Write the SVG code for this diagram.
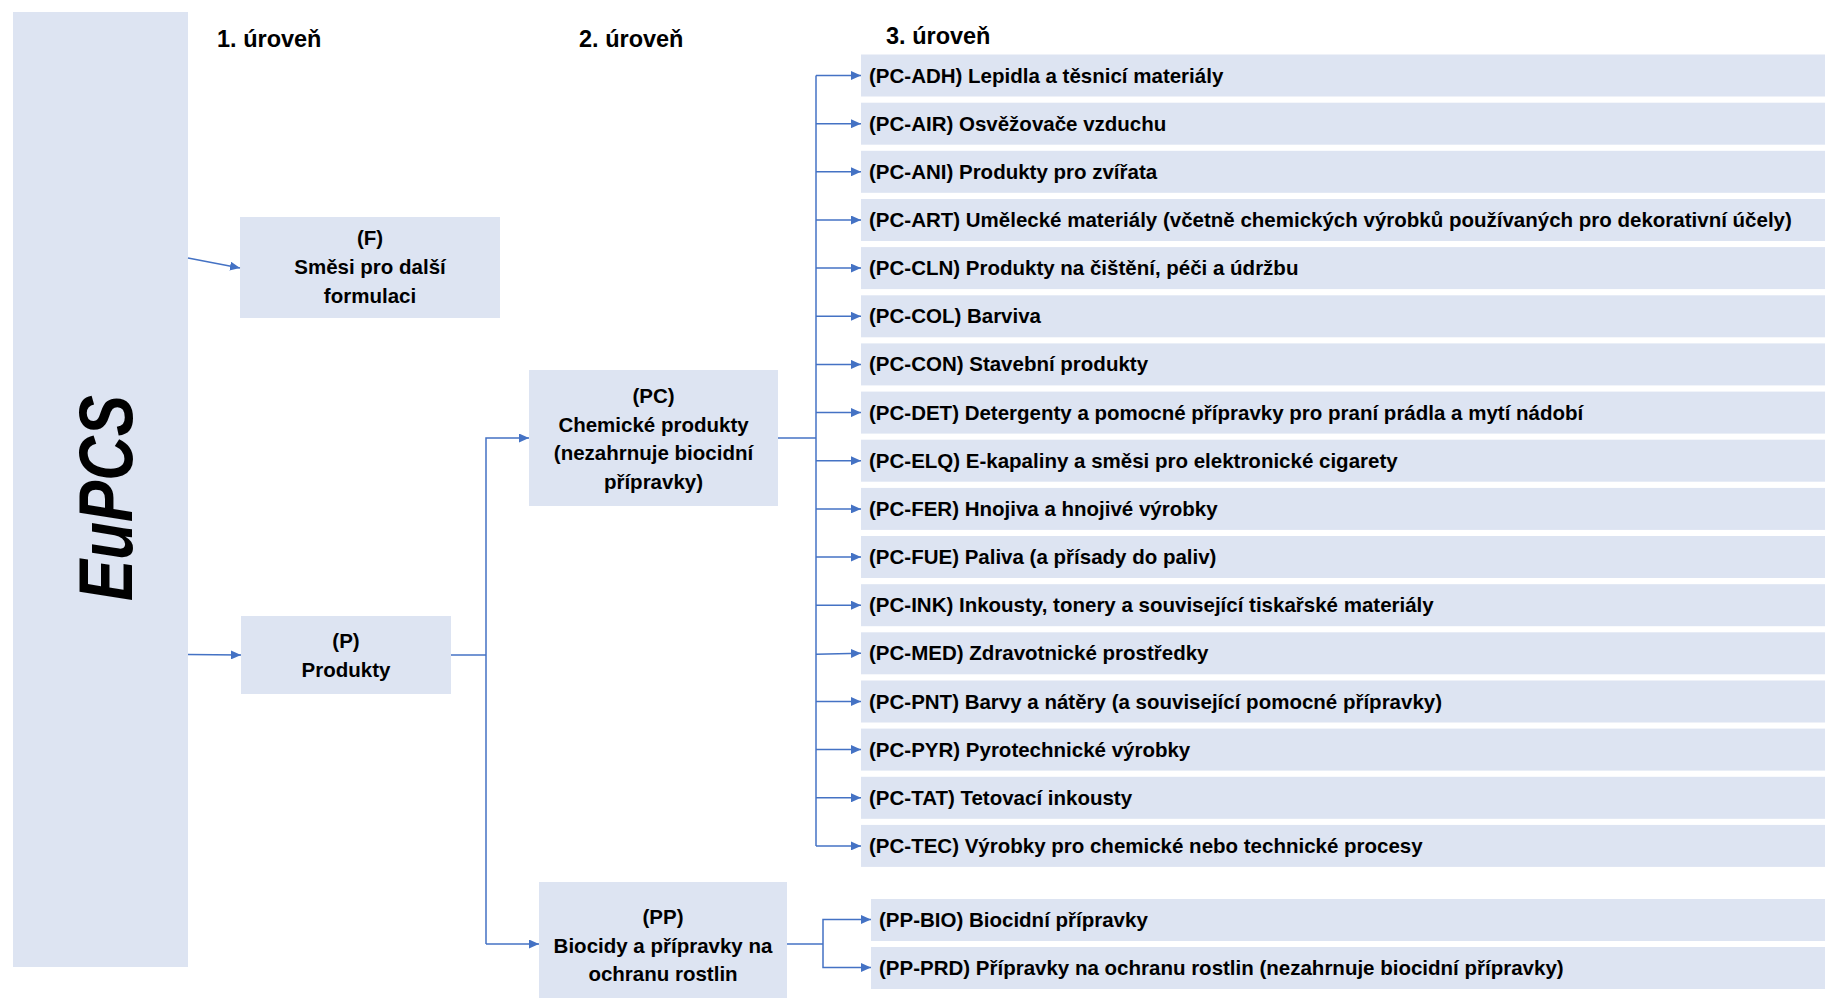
<svg xmlns="http://www.w3.org/2000/svg" width="1825" height="999" viewBox="0 0 1825 999">
<defs>
<marker id="ah" markerUnits="userSpaceOnUse" markerWidth="11" markerHeight="9" refX="10" refY="4.5" orient="auto">
<path d="M0,0 L10,4.5 L0,9 z" fill="#4472C4"/>
</marker>
<style>
.box{fill:#DDE4F2}
.t{font-family:"Liberation Sans",Arial,sans-serif;font-weight:bold;font-size:20.5px;fill:#000}
.c{text-anchor:middle}
.h{font-family:"Liberation Sans",Arial,sans-serif;font-weight:bold;font-size:23.5px;fill:#000}
.ln{fill:none;stroke:#4472C4;stroke-width:1.5}
.ar{fill:none;stroke:#4472C4;stroke-width:1.5;marker-end:url(#ah)}
</style>
</defs>
<rect width="1825" height="999" fill="#fff"/>

<g id="eupcs">
<rect class="box" x="13" y="12" width="175" height="955"/>
<text transform="translate(132,601) rotate(-90)" font-family="'Liberation Sans',Arial,sans-serif" font-weight="bold" font-style="italic" font-size="76" textLength="206" lengthAdjust="spacingAndGlyphs">EuPCS</text>
</g>

<g id="headings">
<text class="h" x="217" y="47">1. úroveň</text>
<text class="h" x="579" y="47">2. úroveň</text>
<text class="h" x="886" y="44">3. úroveň</text>
</g>

<g id="node-F">
<rect class="box" x="240" y="217" width="260" height="101"/>
<text class="t c" x="370" y="245">(F)</text>
<text class="t c" x="370" y="274">Směsi pro další</text>
<text class="t c" x="370" y="303">formulaci</text>
</g>

<g id="node-P">
<rect class="box" x="241" y="616" width="210" height="78"/>
<text class="t c" x="346" y="648">(P)</text>
<text class="t c" x="346" y="677">Produkty</text>
</g>

<g id="node-PC">
<rect class="box" x="529" y="370" width="249" height="136"/>
<text class="t c" x="653.5" y="403">(PC)</text>
<text class="t c" x="653.5" y="431.5">Chemické produkty</text>
<text class="t c" x="653.5" y="460">(nezahrnuje biocidní</text>
<text class="t c" x="653.5" y="488.5">přípravky)</text>
</g>

<g id="node-PP">
<rect class="box" x="539" y="882" width="248" height="116"/>
<text class="t c" x="663" y="924">(PP)</text>
<text class="t c" x="663" y="952.5">Biocidy a přípravky na</text>
<text class="t c" x="663" y="981">ochranu rostlin</text>
</g>

<g id="level3">
<g id="PC-ADH"><rect class="box" x="861" y="54.5" width="964" height="42"/><text class="t" x="869" y="82.5">(PC-ADH) Lepidla a těsnicí materiály</text></g>
<g id="PC-AIR"><rect class="box" x="861" y="102.7" width="964" height="42"/><text class="t" x="869" y="130.7">(PC-AIR) Osvěžovače vzduchu</text></g>
<g id="PC-ANI"><rect class="box" x="861" y="150.8" width="964" height="42"/><text class="t" x="869" y="178.8">(PC-ANI) Produkty pro zvířata</text></g>
<g id="PC-ART"><rect class="box" x="861" y="199" width="964" height="42"/><text class="t" x="869" y="227">(PC-ART) Umělecké materiály (včetně chemických výrobků používaných pro dekorativní účely)</text></g>
<g id="PC-CLN"><rect class="box" x="861" y="247.1" width="964" height="42"/><text class="t" x="869" y="275.1">(PC-CLN) Produkty na čištění, péči a údržbu</text></g>
<g id="PC-COL"><rect class="box" x="861" y="295.3" width="964" height="42"/><text class="t" x="869" y="323.3">(PC-COL) Barviva</text></g>
<g id="PC-CON"><rect class="box" x="861" y="343.4" width="964" height="42"/><text class="t" x="869" y="371.4">(PC-CON) Stavební produkty</text></g>
<g id="PC-DET"><rect class="box" x="861" y="391.6" width="964" height="42"/><text class="t" x="869" y="419.6">(PC-DET) Detergenty a pomocné přípravky pro praní prádla a mytí nádobí</text></g>
<g id="PC-ELQ"><rect class="box" x="861" y="439.7" width="964" height="42"/><text class="t" x="869" y="467.7">(PC-ELQ) E-kapaliny a směsi pro elektronické cigarety</text></g>
<g id="PC-FER"><rect class="box" x="861" y="487.9" width="964" height="42"/><text class="t" x="869" y="515.9">(PC-FER) Hnojiva a hnojivé výrobky</text></g>
<g id="PC-FUE"><rect class="box" x="861" y="536" width="964" height="42"/><text class="t" x="869" y="564">(PC-FUE) Paliva (a přísady do paliv)</text></g>
<g id="PC-INK"><rect class="box" x="861" y="584.2" width="964" height="42"/><text class="t" x="869" y="612.2">(PC-INK) Inkousty, tonery a související tiskařské materiály</text></g>
<g id="PC-MED"><rect class="box" x="861" y="632.3" width="964" height="42"/><text class="t" x="869" y="660.3">(PC-MED) Zdravotnické prostředky</text></g>
<g id="PC-PNT"><rect class="box" x="861" y="680.5" width="964" height="42"/><text class="t" x="869" y="708.5">(PC-PNT) Barvy a nátěry (a související pomocné přípravky)</text></g>
<g id="PC-PYR"><rect class="box" x="861" y="728.6" width="964" height="42"/><text class="t" x="869" y="756.6">(PC-PYR) Pyrotechnické výrobky</text></g>
<g id="PC-TAT"><rect class="box" x="861" y="776.8" width="964" height="42"/><text class="t" x="869" y="804.8">(PC-TAT) Tetovací inkousty</text></g>
<g id="PC-TEC"><rect class="box" x="861" y="824.9" width="964" height="42"/><text class="t" x="869" y="852.9">(PC-TEC) Výrobky pro chemické nebo technické procesy</text></g>
<g id="PP-BIO"><rect class="box" x="871" y="899" width="954" height="42"/><text class="t" x="879" y="926.5">(PP-BIO) Biocidní přípravky</text></g>
<g id="PP-PRD"><rect class="box" x="871" y="947" width="954" height="42"/><text class="t" x="879" y="974.5">(PP-PRD) Přípravky na ochranu rostlin (nezahrnuje biocidní přípravky)</text></g>
</g>

<g id="connectors">
<line class="ar" x1="188" y1="258" x2="240" y2="268"/>
<line class="ar" x1="188" y1="654.5" x2="241" y2="655"/>
<polyline class="ln" points="451,655 486,655"/>
<polyline class="ar" points="486,944 486,438 529,438"/>
<polyline class="ar" points="486,944 539,944"/>
<polyline class="ln" points="778,438 816,438"/>
<line class="ln" x1="816" y1="75.5" x2="816" y2="845.9"/>
<line class="ar" x1="816" y1="75.5" x2="861" y2="75.5"/>
<line class="ar" x1="816" y1="123.7" x2="861" y2="123.7"/>
<line class="ar" x1="816" y1="171.8" x2="861" y2="171.8"/>
<line class="ar" x1="816" y1="220" x2="861" y2="220"/>
<line class="ar" x1="816" y1="268.1" x2="861" y2="268.1"/>
<line class="ar" x1="816" y1="316.3" x2="861" y2="316.3"/>
<line class="ar" x1="816" y1="364.4" x2="861" y2="364.4"/>
<line class="ar" x1="816" y1="412.6" x2="861" y2="412.6"/>
<line class="ar" x1="816" y1="460.7" x2="861" y2="460.7"/>
<line class="ar" x1="816" y1="508.9" x2="861" y2="508.9"/>
<line class="ar" x1="816" y1="557" x2="861" y2="557"/>
<line class="ar" x1="816" y1="605.2" x2="861" y2="605.2"/>
<line class="ar" x1="816" y1="654.3" x2="861" y2="653.3"/>
<line class="ar" x1="816" y1="701.5" x2="861" y2="701.5"/>
<line class="ar" x1="816" y1="749.6" x2="861" y2="749.6"/>
<line class="ar" x1="816" y1="797.8" x2="861" y2="797.8"/>
<line class="ar" x1="816" y1="845.9" x2="861" y2="845.9"/>
<polyline class="ln" points="787,944 823,944"/>
<polyline class="ar" points="823,944 823,919.5 871,919.5"/>
<polyline class="ar" points="823,944 823,967.5 871,967.5"/>
</g>
</svg>
